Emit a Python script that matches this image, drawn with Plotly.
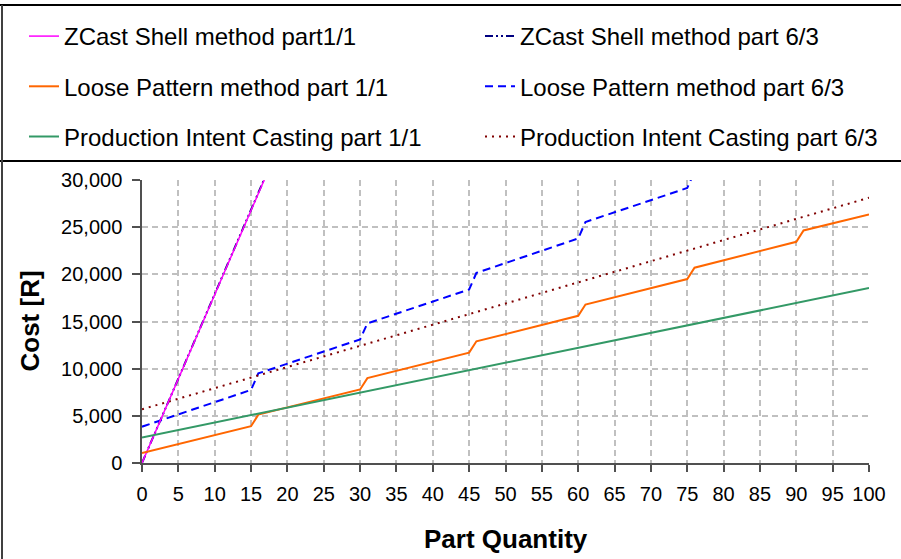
import plotly.graph_objects as go

# ---- data ----
zcast11_x = [0, 20]
zcast11_y = [0, 35700]

zcast63_x = [0, 20]
zcast63_y = [0, 35800]

loose11_x = [0, 15, 16, 30, 31, 45, 46, 60, 61, 75, 76, 90, 91, 100]
loose11_y = [1050, 3900, 5130, 7800, 9000, 11700, 12900, 15600, 16800, 19500, 20700, 23450, 24650, 26350]

loose63_x = [0, 15, 16, 30, 31, 45, 46, 60, 61, 75, 76, 90, 91, 100]
loose63_y = [3850, 7750, 9500, 13100, 14800, 18400, 20150, 23800, 25550, 29150, 30900, 34500, 36250, 38600]

pic11_x = [0, 100]
pic11_y = [2700, 18550]

pic63_x = [0, 100]
pic63_y = [5690, 28120]

x_ticks = list(range(0, 101, 5))
y_ticks = list(range(0, 30001, 5000))

FONT = "Liberation Sans, Arial, sans-serif"

fig = go.Figure()

def add(x, y, name, color, dash, width, legend, group):
    fig.add_trace(go.Scatter(
        x=x, y=y, mode="lines", name=name,
        line=dict(color=color, dash=dash, width=width),
        legend=legend, legendgroup=group,
    ))

# column-2 legend traces drawn first so the magenta line sits on top
add(zcast63_x, zcast63_y, "ZCast Shell method part 6/3", "#000080", "8px,3px,2px,3px,2px,3px", 2, "legend2", "d")
add(loose63_x, loose63_y, "Loose Pattern method part 6/3", "#0000FF", "8px,5px", 2, "legend2", "e")
add(pic63_x, pic63_y, "Production Intent Casting part 6/3", "#800000", "2px,5px", 2, "legend2", "f")
add(zcast11_x, zcast11_y, "ZCast Shell method part1/1", "#FF00FF", "solid", 1.5, "legend", "a")
add(loose11_x, loose11_y, "Loose Pattern method part 1/1", "#FF6600", "solid", 2, "legend", "b")
add(pic11_x, pic11_y, "Production Intent Casting part 1/1", "#339966", "solid", 2, "legend", "c")

L, R, T, B = 142, 869, 180, 463
W, H = 901, 559
pw, ph = R - L, B - T

def px(xp):
    return (xp - L) / pw

def py(yp):
    return (B - yp) / ph

legend_common = dict(
    xref="paper", yref="paper", xanchor="left", yanchor="top",
    orientation="v", font=dict(family=FONT, size=24, color="black"),
    bgcolor="rgba(0,0,0,0)", borderwidth=0, tracegroupgap=16, itemwidth=30,
)

fig.update_layout(
    width=W, height=H,
    margin=dict(l=L, r=W - R, t=T, b=H - B, autoexpand=False),
    paper_bgcolor="white", plot_bgcolor="white",
    font=dict(family=FONT, color="black"),
    legend=dict(x=px(24), y=py(14), **legend_common),
    legend2=dict(x=px(480), y=py(14), **legend_common),
    xaxis=dict(
        range=[0, 100], tickvals=x_ticks, ticktext=[str(v) for v in x_ticks],
        showgrid=True, gridcolor="#C0C0C0", griddash="6px,4px", gridwidth=1.5,
        showline=True, linecolor="#505050", linewidth=2,
        ticks="outside", ticklen=7, tickcolor="#505050", tickwidth=1.5,
        tickfont=dict(family=FONT, size=20, color="black"),
        ticklabelstandoff=5, zeroline=False, automargin=False,
    ),
    yaxis=dict(
        range=[0, 30000], tickvals=y_ticks, tickformat=",d",
        showgrid=True, gridcolor="#C0C0C0", griddash="6px,4px", gridwidth=1.5,
        showline=True, linecolor="#505050", linewidth=1.5,
        ticks="outside", ticklen=8, tickcolor="#505050", tickwidth=1.5,
        tickfont=dict(family=FONT, size=20, color="black"),
        ticklabelstandoff=6, zeroline=False, automargin=False,
    ),
    annotations=[
        dict(text="<b>Part Quantity</b>", xref="paper", yref="paper",
             x=0.5, y=py(539), xanchor="center", yanchor="middle",
             showarrow=False, font=dict(family=FONT, size=26, color="black")),
        dict(text="<b>Cost [R]</b>", xref="paper", yref="paper",
             x=px(29), y=0.5, xanchor="center", yanchor="middle", textangle=-90,
             showarrow=False, font=dict(family=FONT, size=26, color="black")),
    ],
    shapes=[
        dict(type="line", xref="paper", yref="paper", x0=px(0), x1=px(W), y0=py(5), y1=py(5),
             line=dict(color="black", width=2)),
        dict(type="line", xref="paper", yref="paper", x0=px(0), x1=px(W), y0=py(161), y1=py(161),
             line=dict(color="black", width=2)),
        dict(type="line", xref="paper", yref="paper", x0=px(2), x1=px(2), y0=py(5), y1=py(H),
             line=dict(color="#404040", width=2)),
    ],
)

fig.write_html(
    "out.html",
    config={"displayModeBar": False},
    post_script="document.body.style.margin='0px';document.body.style.padding='0px';",
)
